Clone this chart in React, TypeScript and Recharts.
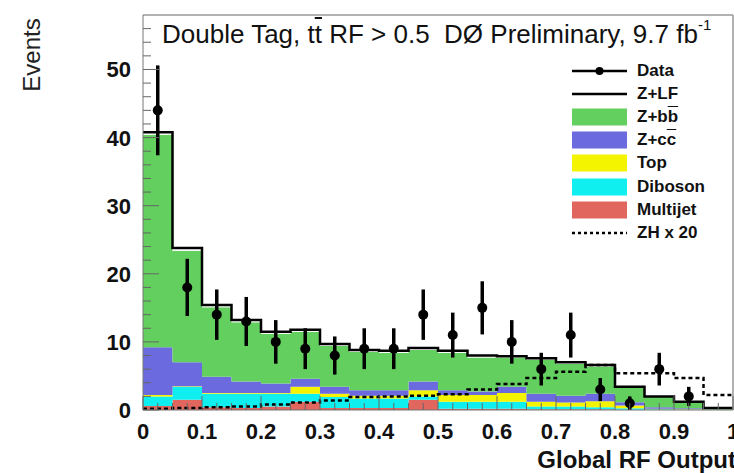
import { ComposedChart, Area, Line, Scatter, ErrorBar, XAxis, YAxis, ReferenceLine } from 'recharts';

// bin left edges (bin width 0.05)
const bins = [0, 0.05, 0.1, 0.15, 0.2, 0.25, 0.3, 0.35, 0.4, 0.45, 0.5, 0.55, 0.6, 0.65, 0.7, 0.75, 0.8, 0.85, 0.9, 0.95];

// stacked backgrounds, bottom to top
const multijet = [0.6, 1.5, 0.4, 0.3, 0.5, 1.2, 0.3, 0.3, 0.3, 1.5, 0.2, 0.2, 0.2, 0.1, 0.1, 0.1, 0.05, 0, 0, 0];
const diboson = [1.4, 1.9, 2.0, 2.1, 1.9, 1.2, 1.6, 1.4, 1.4, 0.5, 1.0, 1.0, 1.0, 0.4, 0.4, 0.3, 0.2, 0.1, 0.05, 0];
const topq = [0.2, 0.1, 0.1, 0.1, 0.1, 1.0, 0.5, 0.4, 0.4, 0.9, 1.0, 1.0, 1.3, 0.7, 0.6, 0.9, 0.4, 0.1, 0.05, 0];
const zcc = [7.0, 3.5, 2.4, 1.7, 1.4, 1.2, 1.0, 0.8, 0.8, 1.3, 0.7, 0.5, 0.9, 1.2, 1.0, 1.1, 0.5, 0.2, 0.15, 0.05];
const zbb = [31.2, 16.4, 10.2, 8.7, 7.3, 6.9, 6.0, 5.6, 5.5, 4.6, 5.5, 5.0, 4.3, 5.0, 4.7, 4.0, 2.1, 1.5, 0.85, 0.2];
const zlf = [0.4, 0.4, 0.3, 0.3, 0.3, 0.3, 0.3, 0.3, 0.3, 0.3, 0.3, 0.3, 0.2, 0.2, 0.2, 0.2, 0.15, 0.1, 0.1, 0.05];

// signal ZH x 20 (dashed)
const zh20 = [0.2, 0.3, 0.4, 0.5, 0.8, 1.1, 1.4, 1.9, 2.0, 2.1, 2.3, 3.0, 3.8, 4.7, 5.6, 6.6, 5.4, 5.4, 4.7, 2.2];

// data points
const dataX = [0.025, 0.075, 0.125, 0.175, 0.225, 0.275, 0.325, 0.375, 0.425, 0.475, 0.525, 0.575, 0.625, 0.675, 0.725, 0.775, 0.825, 0.875, 0.925];
const dataY = [44, 18, 14, 13, 10, 9, 8, 9, 9, 14, 11, 15, 10, 6, 11, 3, 1, 6, 2];
const dataErr = [6.6, 4.2, 3.7, 3.6, 3.2, 3.0, 2.8, 3.0, 3.0, 3.7, 3.3, 3.9, 3.2, 2.4, 3.3, 1.7, 1.0, 2.4, 1.4];

const yTicks = [0, 2, 4, 6, 8, 10, 12, 14, 16, 18, 20, 22, 24, 26, 28, 30, 32, 34, 36, 38, 40, 42, 44, 46, 48, 50, 52, 54, 56];
const xTicks = [0, 0.025, 0.05, 0.075, 0.1, 0.125, 0.15, 0.175, 0.2, 0.225, 0.25, 0.275, 0.3, 0.325, 0.35, 0.375, 0.4, 0.425, 0.45, 0.475, 0.5, 0.525, 0.55, 0.575, 0.6, 0.625, 0.65, 0.675, 0.7, 0.725, 0.75, 0.775, 0.8, 0.825, 0.85, 0.875, 0.9, 0.925, 0.95, 0.975, 1];

const C = {
  green: '#62cf5f',
  blue: '#6b6ade',
  yellow: '#f4f400',
  cyan: '#10efef',
  red: '#e0665e',
};

const FONT = '"Liberation Sans", Arial, sans-serif';

const table = bins.map((x, i) => ({
  x,
  multijet: multijet[i],
  diboson: diboson[i],
  top: topq[i],
  zcc: zcc[i],
  zbb: zbb[i],
  zlf: zlf[i],
  zh: zh20[i],
}));
// closing edge of the last bin
table.push({ ...table[table.length - 1], x: 1 });

const points = dataX.map((x, i) => ({ x, y: dataY[i], err: dataErr[i] }));

function YTick(props: any) {
  const { x, y, payload } = props;
  const v = payload.value;
  const major = v % 10 === 0;
  const ax = x + 12;
  return (
    <g>
      <line x1={ax} x2={ax + (major ? 16 : 8)} y1={y} y2={y} stroke="#666" strokeWidth={1} />
      {major && (
        <text x={x} y={y} dy="0.36em" textAnchor="end" fontSize={22} fontWeight="bold" fontFamily={FONT} fill="#111">
          {v}
        </text>
      )}
    </g>
  );
}

function XTick(props: any) {
  const { x, y, payload } = props;
  const v = payload.value;
  const major = Math.abs(v * 10 - Math.round(v * 10)) < 1e-6;
  const ay = y - 10;
  const label = v === 0 ? '0' : v === 1 ? '1' : v.toFixed(1);
  return (
    <g>
      <line x1={x} x2={x} y1={ay} y2={ay - (major ? 14 : 7)} stroke="#666" strokeWidth={1} />
      {major && (
        <text x={x} y={y + 3} dy="0.72em" textAnchor="middle" fontSize={22} fontWeight="bold" fontFamily={FONT} fill="#111">
          {label}
        </text>
      )}
    </g>
  );
}

const legendRows = [
  { key: 'data', label: 'Data' },
  { key: 'zlf', label: 'Z+LF' },
  { key: 'zbb', label: <>Z+b<span style={{ textDecoration: 'overline' }}>b</span></>, color: C.green },
  { key: 'zcc', label: <>Z+c<span style={{ textDecoration: 'overline' }}>c</span></>, color: C.blue },
  { key: 'top', label: 'Top', color: C.yellow },
  { key: 'dib', label: 'Diboson', color: C.cyan },
  { key: 'mj', label: 'Multijet', color: C.red },
  { key: 'zh', label: 'ZH x 20' },
];

function LegendBox() {
  return (
    <div style={{ position: 'absolute', left: 572, top: 59, fontFamily: FONT, fontSize: 17, fontWeight: 'bold', color: '#111' }}>
      {legendRows.map((r) => (
        <div key={r.key} style={{ display: 'flex', alignItems: 'center', height: 23.2 }}>
          <svg width={56} height={20} style={{ marginRight: 9 }}>
            {r.color && <rect x={0} y={1.5} width={55} height={17} fill={r.color} />}
            {(r.key === 'data' || r.key === 'zlf') && <line x1={0} x2={55} y1={10} y2={10} stroke="#000" strokeWidth={2.5} />}
            {r.key === 'data' && <circle cx={27.5} cy={10} r={4} fill="#000" />}
            {r.key === 'zh' && <line x1={0} x2={55} y1={10} y2={10} stroke="#000" strokeWidth={2.5} strokeDasharray="3 3" />}
          </svg>
          <span>{r.label}</span>
        </div>
      ))}
    </div>
  );
}

export default function App() {
  return (
    <div style={{ position: 'absolute', left: 0, top: 0, width: 734, height: 473, background: '#fff' }}>
      <ComposedChart width={734} height={473} data={table} margin={{ top: 15, right: 1, bottom: 0, left: 0 }}>
        <XAxis
          dataKey="x"
          type="number"
          domain={[0, 1]}
          ticks={xTicks}
          interval={0}
          tickSize={0}
          tickMargin={10}
          tick={<XTick />}
          height={63}
          axisLine={{ stroke: '#777' }}
          allowDataOverflow
          label={(p: any) => {
            const vb = p.viewBox;
            return (
              <text x={vb.x + vb.width + 3} y={vb.y + 58} textAnchor="end" fontSize={24} fontWeight="bold" fontFamily={FONT} fill="#111">
                Global RF Output
              </text>
            );
          }}
        />
        <YAxis
          type="number"
          domain={[0, 58]}
          ticks={yTicks}
          interval={0}
          tickSize={0}
          tickMargin={12}
          tick={<YTick />}
          width={143}
          axisLine={{ stroke: '#777' }}
          allowDataOverflow
          label={() => (
            <text x={40} y={55} transform="rotate(-90 40 55)" textAnchor="middle" fontSize={24} fontFamily={FONT} fill="#222">
              Events
            </text>
          )}
        />
        <ReferenceLine y={58} stroke="#999" strokeWidth={1.5} />
        <ReferenceLine x={1} stroke="#999" strokeWidth={1.5} />
        <Area type="stepAfter" dataKey="multijet" stackId="bg" fill={C.red} fillOpacity={1} stroke="none" isAnimationActive={false} />
        <Area type="stepAfter" dataKey="diboson" stackId="bg" fill={C.cyan} fillOpacity={1} stroke="none" isAnimationActive={false} />
        <Area type="stepAfter" dataKey="top" stackId="bg" fill={C.yellow} fillOpacity={1} stroke="none" isAnimationActive={false} />
        <Area type="stepAfter" dataKey="zcc" stackId="bg" fill={C.blue} fillOpacity={1} stroke="none" isAnimationActive={false} />
        <Area type="stepAfter" dataKey="zbb" stackId="bg" fill={C.green} fillOpacity={1} stroke="none" isAnimationActive={false} />
        <Area type="stepAfter" dataKey="zlf" stackId="bg" fill="#fff" fillOpacity={1} stroke="#000" strokeWidth={2.5} isAnimationActive={false} />
        <Line type="stepAfter" dataKey="zh" stroke="#000" strokeWidth={2.5} strokeDasharray="4 3" dot={false} isAnimationActive={false} />
        <Scatter
          data={points}
          dataKey="y"
          fill="#000"
          isAnimationActive={false}
          shape={(p: any) => <circle cx={p.cx} cy={p.cy} r={5} fill="#000" />}
        >
          <ErrorBar dataKey="err" direction="y" width={0} stroke="#000" strokeWidth={3.5} isAnimationActive={false} />
        </Scatter>
      </ComposedChart>
      <div style={{ position: 'absolute', left: 162, top: 21, fontFamily: FONT, fontSize: 26, lineHeight: 1, color: '#111', whiteSpace: 'nowrap' }}>
        Double Tag, t<span style={{ textDecoration: 'overline' }}>t</span> RF &gt; 0.5&nbsp; DØ Preliminary, 9.7 fb
        <sup style={{ fontSize: 15, verticalAlign: 'top', position: 'relative', top: -4 }}>-1</sup>
      </div>
      <LegendBox />
    </div>
  );
}
